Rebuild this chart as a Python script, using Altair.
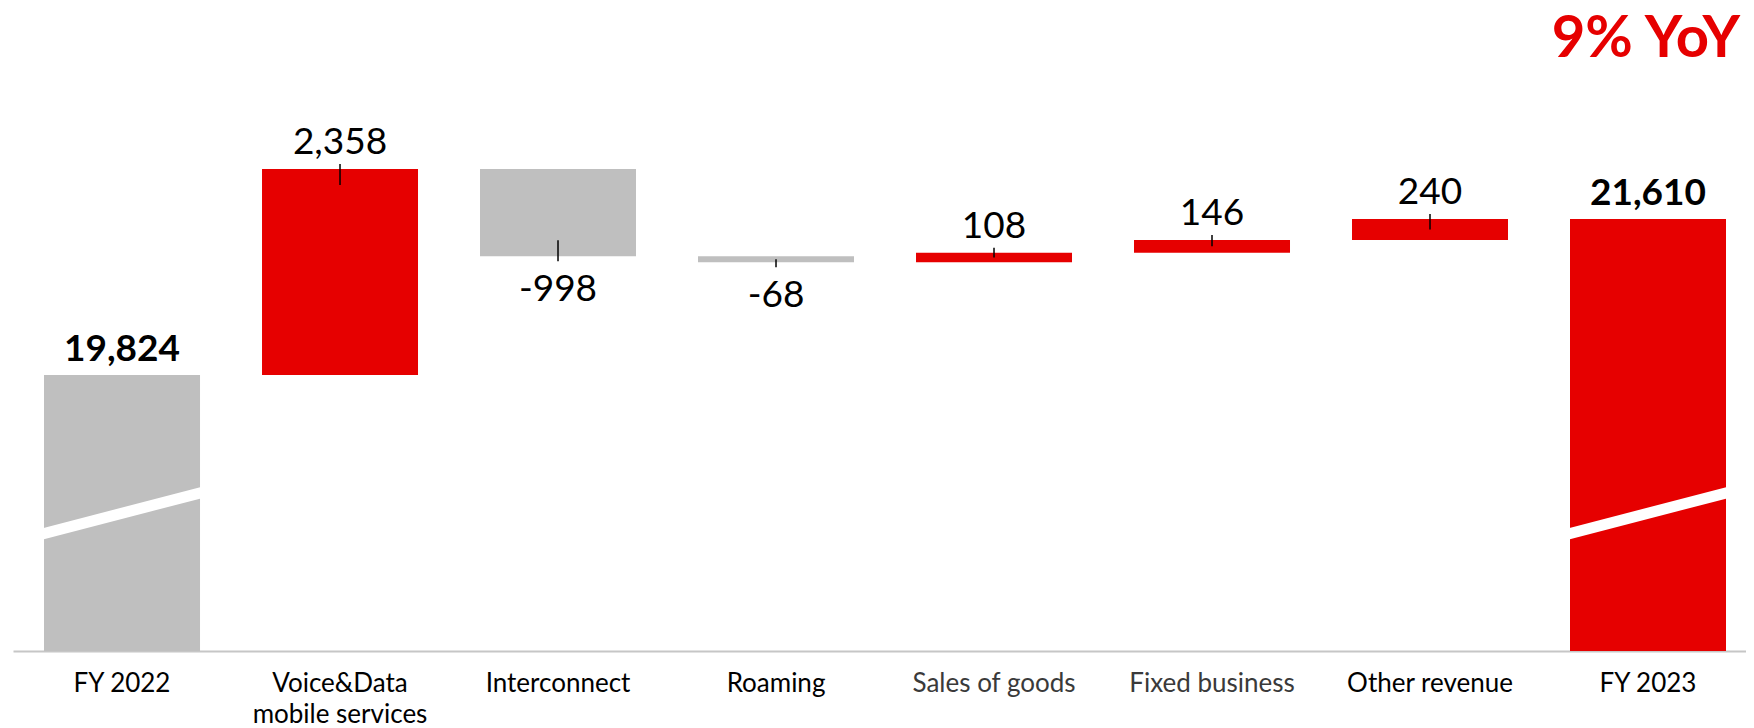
import altair as alt
import pandas as pd

# ---- data ----
categories = ["FY 2022", "Voice&Data\nmobile services", "Interconnect", "Roaming",
              "Sales of goods", "Fixed business", "Other revenue", "FY 2023"]
kinds = ["total", "delta", "delta", "delta", "delta", "delta", "delta", "total"]
values = [19824, 2358, -998, -68, 108, 146, 240, 21610]
label_text = ["19,824", "2,358", "-998", "-68", "108", "146", "240", "21,610"]
headline = "9% YoY"

RED = "#E60000"
GREY = "#BFBFBF"

# broken value axis
Y_MIN, Y_MAX = 16665, 24025
PLOT_W, PLOT_H = 1733, 643
PX = (Y_MAX - Y_MIN) / PLOT_H        # value units per pixel
BREAK_LOW, BREAK_HIGH = 18010, 18474  # white "axis break" slash on total bars
YOY_Y = 23464

rows = []
run = 0
for c, k, v, t in zip(categories, kinds, values, label_text):
    if k == "total":
        start, end = 0, v
        run = v
        color = GREY if c == "FY 2022" else RED
        sign = 1
    else:
        start, end = run, run + v
        run = end
        color = RED if v > 0 else GREY
        sign = 1 if v > 0 else -1
    inner = min(abs(v) / 2, 16 * PX)
    rows.append(dict(cat=c, kind=k, start=start, end=end, color=color, label=t,
                     pos=(sign > 0),
                     tick_a=end + sign * 5 * PX, tick_b=end - sign * inner))
df = pd.DataFrame(rows)

x_scale = alt.Scale(paddingInner=0.2844, paddingOuter=0.117, align=0.608)
x = alt.X("cat:N", sort=categories, scale=x_scale, title=None,
          axis=alt.Axis(
              labelExpr="split(datum.value, '\\n')",
              labelAngle=0, labelFont="Lato", labelFontSize=26,
              labelLineHeight=31, labelPadding=19, ticks=False, grid=False,
              domainColor="#C6C6C6", domainWidth=2, labelBaseline="top",
              labelColor={"condition": {"test": "datum.value == 'Sales of goods' || datum.value == 'Fixed business'",
                                        "value": "#3A3A3A"},
                          "value": "#000000"},
          ))
y_scale = alt.Scale(domain=[Y_MIN, Y_MAX], zero=False, nice=False)

base = alt.Chart(df)

bars = base.mark_bar(clip=True).encode(
    x=x,
    y=alt.Y("start:Q", scale=y_scale, axis=None),
    y2="end:Q",
    color=alt.Color("color:N", scale=None),
)

breaks = base.transform_filter("datum.kind == 'total'").transform_calculate(
    b1=str(BREAK_LOW), b2=str(BREAK_HIGH)
).mark_rule(color="white", strokeWidth=11, strokeCap="square").encode(
    x=alt.X("cat:N", sort=categories, bandPosition=0),
    x2=alt.X2("cat:N", bandPosition=1),
    y=alt.Y("b1:Q"),
    y2="b2:Q",
)

ticks = base.transform_filter("datum.kind == 'delta'").mark_rule(
    color="black", strokeWidth=1.5).encode(
    x=alt.X("cat:N", sort=categories),
    y="tick_a:Q",
    y2="tick_b:Q",
)

pos_labels = base.transform_filter("datum.kind == 'delta' && datum.pos").mark_text(
    font="Lato", fontSize=37, baseline="alphabetic", dy=-15, color="black").encode(
    x=alt.X("cat:N", sort=categories), y="end:Q", text="label:N")

neg_labels = base.transform_filter("datum.kind == 'delta' && !datum.pos").mark_text(
    font="Lato", fontSize=37, baseline="top", dy=16, color="black").encode(
    x=alt.X("cat:N", sort=categories), y="end:Q", text="label:N")

tot_labels = base.transform_filter("datum.kind == 'total'").mark_text(
    font="Lato", fontSize=37, fontWeight="bold", baseline="alphabetic", dy=-14,
    color="black").encode(
    x=alt.X("cat:N", sort=categories), y="end:Q", text="label:N")

yoy = alt.Chart(pd.DataFrame({"cat": ["FY 2023"], "v": [YOY_Y], "t": [headline]})).mark_text(
    font="Lato", fontSize=58, fontWeight="bold", color=RED, align="right",
    baseline="alphabetic", dx=92).encode(
    x=alt.X("cat:N", sort=categories), y="v:Q", text="t:N")

chart = alt.layer(bars, breaks, ticks, pos_labels, neg_labels, tot_labels, yoy).properties(
    width=PLOT_W, height=PLOT_H,
    padding={"left": 5, "top": 0, "right": 0, "bottom": 77},
    autosize=alt.AutoSizeParams(type="none"),
).configure_view(stroke=None)

chart.save("out.html", embed_options={"renderer": "svg", "actions": False})
